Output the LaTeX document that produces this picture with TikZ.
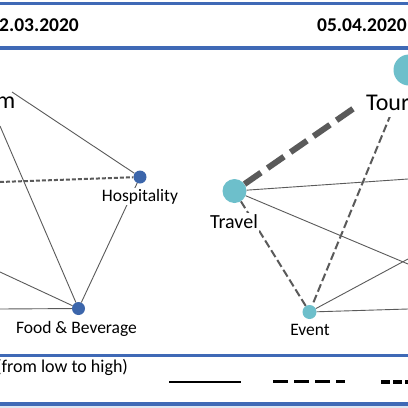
\documentclass[tikz,border=0pt]{standalone}
\usepackage{fontspec}
\setmainfont{Carlito}
\definecolor{bandblue}{HTML}{3F69B6}
\definecolor{bandlight}{HTML}{DCE6F2}
\definecolor{navynode}{HTML}{3C66AB}
\definecolor{tealnode}{HTML}{6DBFCB}
\definecolor{linkgray}{HTML}{5A5A5A}
\begin{document}
\begin{tikzpicture}[x=1pt,y=-1pt,
  band/.style={draw=bandblue, line width=3.5pt},
  datelbl/.style={font=\bfseries\fontsize{19.5}{20}\selectfont, inner sep=0pt, anchor=base west},
  lbl/.style={fill=white, inner sep=1pt, anchor=base},
  thinlink/.style={draw=linkgray, line width=0.9pt},
  dotlink/.style={draw=linkgray, line width=2pt, dash pattern=on 4pt off 2pt},
  dashlink/.style={draw=linkgray, line width=2pt, dash pattern=on 8pt off 3.5pt},
  heavylink/.style={draw=linkgray, line width=6pt, dash pattern=on 20pt off 8pt},
  leftnode/.style={circle, fill=navynode, inner sep=0pt, minimum size=13pt},
  rightnode/.style={circle, fill=tealnode, inner sep=0pt},
  legendsolid/.style={draw=black, line width=1.5pt},
  legenddash/.style={draw=black, line width=3pt, dash pattern=on 15pt off 6pt},
  legendheavy/.style={draw=black, line width=4pt, dash pattern=on 9pt off 3pt}
]
\useasboundingbox (0,0) rectangle (408,408);
\fill[white] (0,0) rectangle (408,408);
\fill[bandlight] (0,406) rectangle (408,408);

% bands
\coordinate (b1l) at (0,3.7); \coordinate (b1r) at (408,3.7);
\coordinate (b2l) at (0,48); \coordinate (b2r) at (408,48);
\coordinate (b3l) at (0,355.3); \coordinate (b3r) at (408,355.3);
\coordinate (b4l) at (0,404); \coordinate (b4r) at (408,404);
\draw[band] (b1l) -- (b1r);
\draw[band] (b2l) -- (b2r);
\draw[band] (b3l) -- (b3r);
\draw[band] (b4l) -- (b4r);

% header
\node[datelbl] (dateL) at (-1,31.7) {2.03.2020};
\node[datelbl] (dateR) at (317,31.7) {05.04.2020};

% nodes
\node[leftnode] (hosp) at (140,177) {};
\node[leftnode] (fb) at (78.5,308.5) {};
\node[rightnode, minimum size=24pt] (travel) at (234.5,191) {};
\node[rightnode, minimum size=14pt] (event) at (309.5,312) {};
\node[rightnode, minimum size=31pt] (tourR) at (409,70) {};

% free ends
\coordinate (lA) at (12,92);
\coordinate (lB) at (0,126);
\coordinate (lC) at (0,182);
\coordinate (lD) at (0,272);
\coordinate (lE) at (0,309);
\coordinate (rA) at (408,179);
\coordinate (rB) at (408,264);
\coordinate (rC) at (408,259);
\coordinate (rD) at (408,309);

% left links
\draw[thinlink] (lA) -- (hosp);
\draw[thinlink] (lB) -- (fb);
\draw[dotlink] (lC) -- (hosp);
\draw[thinlink] (lD) -- (fb);
\draw[thinlink] (lE) -- (fb);
\draw[thinlink] (hosp) -- (fb);

% right links
\draw[heavylink, shorten >=46pt] (travel) -- (tourR);
\draw[dashlink, shorten <=32pt] (tourR) -- (event);
\draw[dashlink] (travel) -- (event);
\draw[thinlink] (travel) -- (rA);
\draw[thinlink] (travel) -- (rB);
\draw[thinlink] (event) -- (rC);
\draw[thinlink] (event) -- (rD);

% labels
\node[lbl, font=\fontsize{24}{24}\selectfont, anchor=base west, text depth=0pt] (tourLL) at (-5,108) {m};
\node[lbl, font=\fontsize{17.5}{18}\selectfont] (hospL) at (140,201) {Hospitality};
\node[lbl, font=\fontsize{17.5}{18}\selectfont] (fbL) at (76.5,333) {Food \& Beverage};
\node[lbl, font=\fontsize{20}{20}\selectfont, text depth=4pt] (travelL) at (234,228) {Travel};
\node[lbl, font=\fontsize{17.5}{18}\selectfont] (eventL) at (310,335.5) {Event};
\node[lbl, font=\fontsize{24}{24}\selectfont, anchor=base west, text height=17pt, text depth=6pt] (tourRL) at (365,110) {Tour};

% legend
\node[font=\fontsize{18}{18}\selectfont, inner sep=0pt, anchor=base west] (legtext) at (-4,372.5) {(from low to high)};
\coordinate (s1) at (169,382); \coordinate (s2) at (241,382);
\coordinate (d1) at (273,381.5); \coordinate (d2) at (345,381.5);
\coordinate (h1) at (381,381.5); \coordinate (h2) at (412,381.5);
\draw[legendsolid] (s1) -- (s2);
\draw[legenddash] (d1) -- (d2);
\draw[legendheavy] (h1) -- (h2);
\end{tikzpicture}
\end{document}
